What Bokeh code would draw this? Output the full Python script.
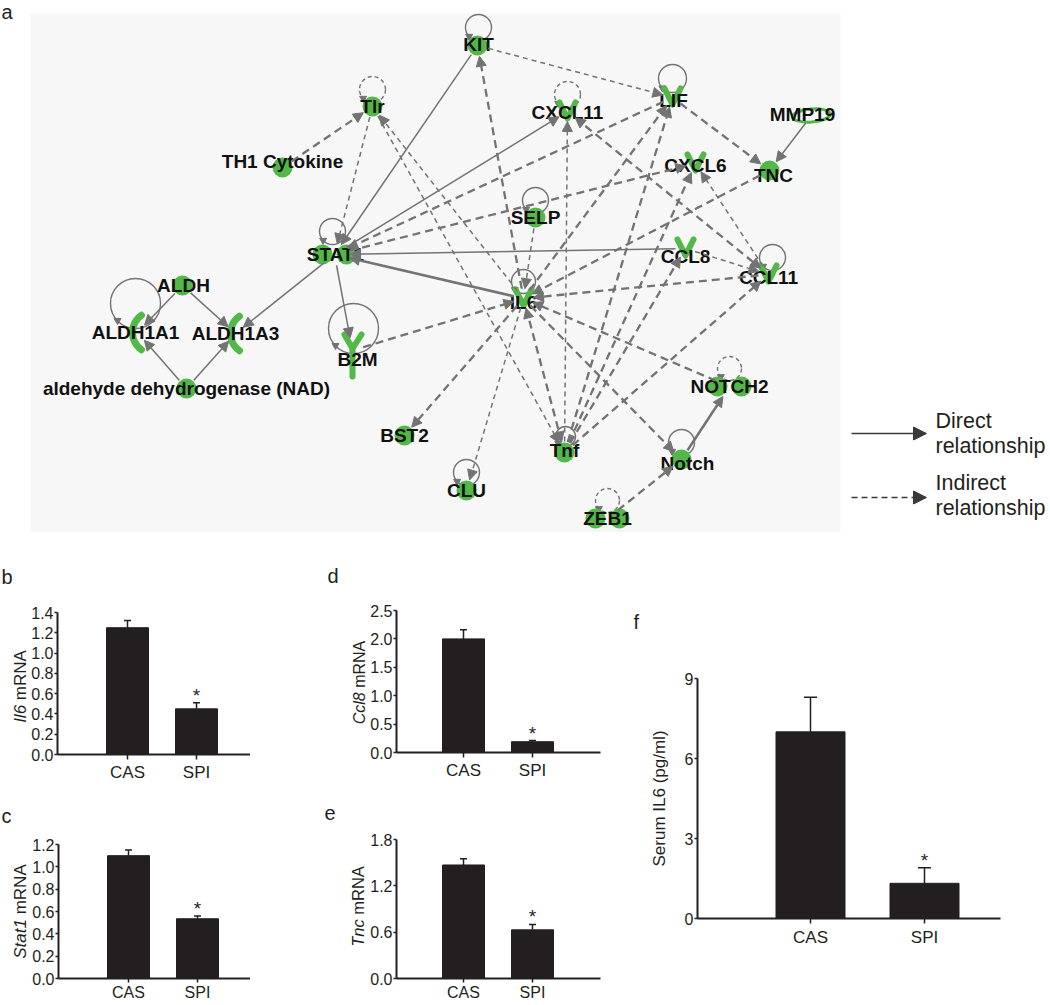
import math
from bokeh.plotting import figure
from bokeh.models import (Range1d, Arrow, NormalHead, ColumnDataSource,
                          FixedTicker, PrintfTickFormatter)
from bokeh.layouts import column, row
from bokeh.embed import file_html
from bokeh.resources import INLINE
from bokeh.core.properties import value

# ---------------------------------------------------------------- DATA
groups = ["CAS", "SPI"]
significant = [False, True]

il6_mrna = [1.25, 0.45]
il6_mrna_err = [0.07, 0.06]
il6_ticks = [0.0, 0.2, 0.4, 0.6, 0.8, 1.0, 1.2, 1.4]

stat1_mrna = [1.10, 0.535]
stat1_mrna_err = [0.05, 0.025]
stat1_ticks = [0.0, 0.2, 0.4, 0.6, 0.8, 1.0, 1.2]

ccl8_mrna = [2.00, 0.19]
ccl8_mrna_err = [0.16, 0.02]
ccl8_ticks = [0.0, 0.5, 1.0, 1.5, 2.0, 2.5]

tnc_mrna = [1.47, 0.63]
tnc_mrna_err = [0.08, 0.07]
tnc_ticks = [0.0, 0.6, 1.2, 1.8]

serum_il6 = [7.0, 1.32]
serum_il6_err = [1.3, 0.58]
serum_ticks = [0, 3, 6, 9]

NAD = "aldehyde dehydrogenase (NAD)"
node_names = ["KIT", "Tlr", "CXCL11", "LIF", "MMP19", "TH1 Cytokine", "CXCL6", "TNC",
              "SELP", "STAT1", "CCL8", "CCL11", "ALDH", "IL6", "ALDH1A1", "ALDH1A3",
              "B2M", NAD, "NOTCH2", "BST2", "Tnf", "Notch", "CLU", "ZEB1"]
node_types = ["circle", "circle", "chemokine", "chemokine", "ring", "circle", "chemokine", "circle",
              "circle", "complex", "chemokine", "chemokine", "circle", "chemokine", "crescent", "crescent",
              "receptor", "circle", "complex", "circle", "circle", "circle", "circle", "complex"]

# relationships: source, target, kind
edge_src = ["KIT", "STAT1", "CCL8", "IL6", "STAT1", "STAT1", "ALDH", "ALDH", NAD, NAD, "MMP19", "Notch",
            "TH1 Cytokine", "Tlr", "IL6", "Tlr", "KIT", "IL6", "LIF", "STAT1", "Tnf", "Tnf", "IL6",
            "Tnf", "Tnf", "Tnf", "CXCL11", "CCL11", "CCL8", "CCL11", "TNC", "LIF", "B2M", "IL6",
            "IL6", "IL6", "SELP", "NOTCH2", "IL6", "ZEB1"]
edge_dst = ["STAT1", "CXCL11", "STAT1", "STAT1", "ALDH1A3", "B2M", "ALDH1A1", "ALDH1A3", "ALDH1A1", "ALDH1A3", "TNC", "NOTCH2",
            "Tlr", "STAT1", "Tlr", "Tnf", "LIF", "KIT", "STAT1", "CXCL6", "CXCL11", "LIF", "LIF",
            "CXCL6", "CCL8", "CCL11", "CCL11", "CXCL6", "CCL11", "IL6", "IL6", "TNC", "IL6", "BST2",
            "CLU", "Tnf", "IL6", "IL6", "Notch", "Notch"]
edge_kind = ["direct", "direct", "direct", "direct_bold", "direct", "direct", "direct", "direct", "direct", "direct", "direct", "direct_bold",
             "indirect", "indirect_thin", "indirect_thin", "indirect_thin", "indirect_thin", "indirect", "indirect", "indirect", "indirect_thin", "indirect", "indirect",
             "indirect", "indirect", "indirect", "indirect_both", "indirect_thin", "indirect_thin", "indirect", "indirect", "indirect", "indirect", "indirect",
             "indirect_thin", "indirect_both", "indirect_thin", "indirect", "indirect", "indirect"]

# self relationships
loop_nodes = ["KIT", "Tlr", "CXCL11", "LIF", "SELP", "STAT1", "ALDH1A1", "B2M", "CCL11",
              "NOTCH2", "IL6", "Tnf", "Notch", "CLU", "ZEB1"]
loop_indirect = [False, True, True, False, False, False, False, False, False,
                 True, False, False, False, False, True]

legend_lines = ["Direct", "relationship", "Indirect", "relationship"]

# ---------------------------------------------------------------- LAYOUT / STYLE
INK = "#231f20"
GREEN = "#52b848"
EDGE = "#737373"
FONT = "Liberation Sans"

NODE_XY = {
    "KIT": (477, 45), "Tlr": (372, 106), "CXCL11": (567, 111), "LIF": (672, 97),
    "MMP19": (811, 115), "TH1 Cytokine": (282, 167), "CXCL6": (695, 163), "TNC": (769, 170),
    "SELP": (535, 217), "STAT1": (334, 254), "CCL8": (685, 248), "CCL11": (768, 274),
    "ALDH": (182, 285), "IL6": (523, 298), "ALDH1A1": (137, 332), "ALDH1A3": (235, 333),
    "B2M": (352, 350), NAD: (186, 388), "NOTCH2": (729, 386),
    "BST2": (404, 435), "Tnf": (564, 452), "Notch": (681, 459), "CLU": (466, 490), "ZEB1": (607, 518),
}
LABEL_XY = {
    "KIT": (478, 44), "Tlr": (372, 106), "CXCL11": (567, 112), "LIF": (673, 100),
    "MMP19": (802, 114), "TH1 Cytokine": (282, 161), "CXCL6": (695, 165), "TNC": (773, 175),
    "SELP": (535, 217), "STAT1": (335, 254), "CCL8": (685, 256), "CCL11": (768, 277),
    "ALDH": (183, 285), "IL6": (523, 302), "ALDH1A1": (135, 332), "ALDH1A3": (235, 333),
    "B2M": (357, 359), NAD: (186, 388), "NOTCH2": (729, 386),
    "BST2": (404, 435), "Tnf": (564, 450), "Notch": (687, 463), "CLU": (466, 490), "ZEB1": (607, 518),
}
NODE_R = {"circle": (11, 11), "complex": (16, 11), "chemokine": (10, 10), "crescent": (9, 12),
          "receptor": (11, 13), "ring": (18, 8)}
LOOP_GEOM = {  # dx, dy, radius
    "KIT": (1, -18, 13), "Tlr": (0, -17, 13), "CXCL11": (0, -17, 13), "LIF": (0, -19, 14),
    "SELP": (0, -17, 13), "STAT1": (-2, -23, 13), "ALDH1A1": (-2, -29, 25), "B2M": (1, -22, 25),
    "CCL11": (4, -17, 13), "NOTCH2": (0, -18, 12), "IL6": (0, -17, 12), "Tnf": (1, -16, 10),
    "Notch": (0, -17, 13), "CLU": (0, -18, 13), "ZEB1": (0, -18, 12),
}
EDGE_STYLE = {
    "direct": dict(line_width=1.5, line_dash="solid"),
    "direct_bold": dict(line_width=2.5, line_dash="solid"),
    "indirect": dict(line_width=2.3, line_dash="8 5"),
    "indirect_thin": dict(line_width=1.5, line_dash="5 4"),
    "indirect_both": dict(line_width=2.3, line_dash="8 5"),
}


def no_align(fig):
    try:
        fig.frame_align = False
    except Exception:
        pass


# ---------------------------------------------------------------- NETWORK (panel a)
net = figure(width=1050, height=543, x_range=Range1d(0, 1050), y_range=Range1d(543, 0),
             output_backend="svg", toolbar_location=None, x_axis_location=None,
             y_axis_location=None, min_border=0)
net.grid.visible = False
net.outline_line_color = None
no_align(net)

net.quad(left=[30], right=[840], top=[13], bottom=[532], fill_color="#f7f7f7", line_color=None)
net.text(x=[1], y=[0], text=["a"], text_font=value(FONT), text_font_size="20px",
         text_color=INK, text_align="left", text_baseline="top")

ntype = dict(zip(node_names, node_types))


def eff_r(name, ux, uy):
    rx, ry = NODE_R[ntype[name]]
    return 1.0 / math.sqrt((ux / rx) ** 2 + (uy / ry) ** 2)


groups_e = {}
for s, d, k in zip(edge_src, edge_dst, edge_kind):
    x0, y0 = NODE_XY[s]
    x1, y1 = NODE_XY[d]
    L = math.hypot(x1 - x0, y1 - y0)
    ux, uy = (x1 - x0) / L, (y1 - y0) / L
    rs, rd = eff_r(s, ux, uy), eff_r(d, ux, uy)
    g = groups_e.setdefault(k, dict(xs=[], ys=[], xe=[], ye=[]))
    g["xs"].append(x0 + ux * rs)
    g["ys"].append(y0 + uy * rs)
    g["xe"].append(x1 - ux * rd)
    g["ye"].append(y1 - uy * rd)

for k, g in groups_e.items():
    st = EDGE_STYLE[k]
    kw = {}
    if k == "indirect_both":
        kw["start"] = NormalHead(size=10, fill_color=EDGE, line_color=EDGE, line_width=1)
    net.add_layout(Arrow(end=NormalHead(size=10, fill_color=EDGE, line_color=EDGE, line_width=1),
                         source=ColumnDataSource(g), x_start="xs", y_start="ys",
                         x_end="xe", y_end="ye", line_color=EDGE, **st, **kw))

# self loops
for n, ind in zip(loop_nodes, loop_indirect):
    x, y = NODE_XY[n]
    dx, dy, r = LOOP_GEOM[n]
    cx, cy = x + dx, y + dy
    net.scatter(x=[cx], y=[cy], size=2 * r, marker="circle", fill_color=None,
                line_color=EDGE, line_width=1.4, line_dash="4 3" if ind else "solid")
    net.scatter(x=[cx - 0.72 * r], y=[cy + 0.68 * r], size=7, marker="inverted_triangle",
                fill_color=EDGE, line_color=EDGE)

# node shapes
circ_x, circ_y = [], []
v_xs, v_ys = [], []
cr_xs, cr_ys = [], []
for n, t in zip(node_names, node_types):
    x, y = NODE_XY[n]
    if t == "circle":
        circ_x.append(x); circ_y.append(y)
    elif t == "complex":
        circ_x += [x - 12, x + 12]; circ_y += [y, y]
    elif t == "chemokine":
        v_xs.append([x - 8, x, x + 8]); v_ys.append([y - 9, y + 7, y - 9])
    elif t == "crescent":
        cx = x + 16
        angs = [math.radians(a) for a in range(125, 240, 5)]
        cr_xs.append([cx + 21 * math.cos(a) for a in angs])
        cr_ys.append([y + 21 * math.sin(a) for a in angs])
    elif t == "receptor":
        v_xs.append([x - 8, x, x + 9]); v_ys.append([y - 16, y - 2, y - 16])
        v_xs.append([x, x]); v_ys.append([y - 2, y + 26])
    elif t == "ring":
        net.ellipse(x=[x], y=[y], width=38, height=13, angle=0.08, fill_color=None,
                    line_color=GREEN, line_width=3)

net.scatter(x=circ_x, y=circ_y, size=20, marker="circle", fill_color=GREEN, line_color=None)
net.multi_line(xs=v_xs, ys=v_ys, line_color=GREEN, line_width=6, line_cap="round", line_join="round")
net.multi_line(xs=cr_xs, ys=cr_ys, line_color=GREEN, line_width=7, line_cap="round", line_join="round")

net.text(x=[LABEL_XY[n][0] for n in node_names], y=[LABEL_XY[n][1] for n in node_names],
         text=node_names, text_font=value(FONT), text_font_style="bold",
         text_font_size="19px", text_color="#111111", text_align="center",
         text_baseline="middle")

# legend
net.add_layout(Arrow(end=NormalHead(size=13, fill_color="#3a3a3a", line_color="#3a3a3a"),
                     x_start=851, y_start=433, x_end=926, y_end=433,
                     line_color="#3a3a3a", line_width=1.5))
net.add_layout(Arrow(end=NormalHead(size=13, fill_color="#3a3a3a", line_color="#3a3a3a"),
                     x_start=851, y_start=497, x_end=926, y_end=497,
                     line_color="#3a3a3a", line_width=1.5, line_dash="6 4"))
net.text(x=[935] * 4, y=[420, 445, 482, 507], text=legend_lines, text_font=value(FONT),
         text_font_size="21.5px", text_color=INK, text_align="left", text_baseline="middle")

# ---------------------------------------------------------------- BAR PANELS
# plot canvas origin (x0, y0), frame (fl, ft, fw, fh), borders, bar centres c1/c2 (px)
GEO = {
    "b": dict(x0=28, y0=543, fl=57, ft=612, fw=193, fh=142, mr=0, mb=30, c1=127, c2=196, bw=42,
              cap=7, xfs=17, tout=5, stand=3),
    "c": dict(x0=28, y0=784, fl=58, ft=844, fw=192, fh=134, mr=0, mb=20, c1=128, c2=197, bw=42,
              cap=7, xfs=16, tout=4, stand=1),
    "d": dict(x0=367, y0=543, fl=396, ft=610, fw=204, fh=142, mr=10, mb=30, c1=463, c2=532, bw=42,
              cap=7, xfs=17, tout=5, stand=3),
    "e": dict(x0=367, y0=782, fl=396, ft=839, fw=204, fh=139, mr=10, mb=20, c1=463, c2=532, bw=42,
              cap=7, xfs=16, tout=4, stand=1),
    "f": dict(x0=672, y0=543, fl=697, ft=678, fw=303, fh=240, mr=46, mb=40, c1=810, c2=924, bw=69,
              cap=13, xfs=17, tout=5, stand=4),
}
# side text strips: canvas x0, width, height, letter pos, y-label centre
SIDE = {
    "b": dict(x0=0, w=28, y0=543, h=241, letter=(1, 576), ylab=(19.5, 686)),
    "c": dict(x0=0, w=28, y0=784, h=200, letter=(1, 815), ylab=(19.5, 911)),
    "d": dict(x0=250, w=117, y0=543, h=239, letter=(327, 575), ylab=(358.5, 682)),
    "e": dict(x0=250, w=117, y0=782, h=200, letter=(324, 812), ylab=(357, 906)),
    "f": dict(x0=610, w=62, y0=543, h=415, letter=(633, 621), ylab=(659, 798)),
}


def side_strip(key, ylabel_parts, fs):
    sd = SIDE[key]
    s = figure(width=sd["w"], height=sd["h"], x_range=Range1d(sd["x0"], sd["x0"] + sd["w"]),
               y_range=Range1d(-(sd["y0"] + sd["h"]), -sd["y0"]), output_backend="svg",
               toolbar_location=None, x_axis_location=None, y_axis_location=None, min_border=0)
    s.grid.visible = False
    s.outline_line_color = None
    no_align(s)
    lx, ly = sd["letter"]
    s.text(x=[lx], y=[-ly], text=[key], text_font=value(FONT), text_font_size="20px",
           text_color=INK, text_align="left", text_baseline="middle")
    cx, cy = sd["ylab"]
    total = sum(w for _, _, w in ylabel_parts) * fs
    py = cy + total / 2
    for txt, style, w in ylabel_parts:
        s.text(x=[cx], y=[-py], text=[txt], angle=math.pi / 2, text_font=value(FONT),
               text_font_style=style, text_font_size=f"{fs}px", text_color=INK,
               text_align="left", text_baseline="middle")
        py -= w * fs
    return s


def bar_panel(key, means, errs, ticks, fmt):
    g = GEO[key]
    s = g["c2"] - g["c1"]
    xs = 1 - (g["c1"] - g["fl"]) / s
    xe = 1 + (g["fl"] + g["fw"] - g["c1"]) / s
    ymax = ticks[-1]
    p = figure(frame_width=g["fw"], frame_height=g["fh"], x_range=Range1d(xs, xe),
               y_range=Range1d(0, ymax), output_backend="svg", toolbar_location=None,
               min_border_left=g["fl"] - g["x0"], min_border_top=g["ft"] - g["y0"],
               min_border_right=g["mr"], min_border_bottom=g["mb"])
    p.grid.visible = False
    p.outline_line_color = None
    no_align(p)

    xpos = [i + 1 for i in range(len(groups))]
    tops = [m + e for m, e in zip(means, errs)]
    cw = g["cap"] / 2 / s
    p.segment(x0=xpos, y0=means, x1=xpos, y1=tops, line_color=INK, line_width=1.5)
    p.segment(x0=[x - cw for x in xpos], y0=tops, x1=[x + cw for x in xpos], y1=tops,
              line_color=INK, line_width=1.5)
    p.vbar(x=xpos, top=means, width=g["bw"] / s, bottom=0, fill_color=INK, line_color=INK)
    sx = [x for x, sg in zip(xpos, significant) if sg]
    sy = [t for t, sg in zip(tops, significant) if sg]
    p.text(x=sx, y=sy, text=["*"] * len(sx), text_font=value(FONT), text_font_size="19px",
           text_color=INK, text_align="center", text_baseline="bottom", y_offset=3)

    p.xaxis.ticker = FixedTicker(ticks=xpos)
    p.xaxis.major_label_overrides = {x: gname for x, gname in zip(xpos, groups)}
    p.yaxis.ticker = FixedTicker(ticks=ticks)
    p.yaxis.formatter = PrintfTickFormatter(format=fmt)
    for ax in (p.xaxis[0], p.yaxis[0]):
        ax.axis_line_width = 2
        ax.axis_line_color = INK
        ax.major_tick_line_color = INK
        ax.major_tick_line_width = 1.5
        ax.major_tick_in = 0
        ax.minor_tick_line_color = None
        ax.major_label_text_font = FONT
        ax.major_label_text_color = INK
    p.yaxis.major_tick_out = 3
    p.yaxis.major_label_standoff = 1
    p.yaxis.major_label_text_font_size = "16px"
    p.xaxis.major_tick_out = g["tout"]
    p.xaxis.major_label_standoff = g["stand"]
    p.xaxis.major_label_text_font_size = f"{g['xfs']}px"
    return p


pb = bar_panel("b", il6_mrna, il6_mrna_err, il6_ticks, "%.1f")
pc = bar_panel("c", stat1_mrna, stat1_mrna_err, stat1_ticks, "%.1f")
pd = bar_panel("d", ccl8_mrna, ccl8_mrna_err, ccl8_ticks, "%.1f")
pe = bar_panel("e", tnc_mrna, tnc_mrna_err, tnc_ticks, "%.1f")
pf = bar_panel("f", serum_il6, serum_il6_err, serum_ticks, "%d")

sb = side_strip("b", [("Il6", "italic", 1.334), ("mRNA", "normal", 2.944)], 17)
sc = side_strip("c", [("Stat1", "italic", 2.613), ("mRNA", "normal", 2.944)], 17)
sdd = side_strip("d", [("Ccl8", "italic", 2.278), ("mRNA", "normal", 2.944)], 16)
se = side_strip("e", [("Tnc", "italic", 1.945), ("mRNA", "normal", 2.944)], 16.5)
sf = side_strip("f", [("Serum IL6 (pg/ml)", "normal", 8.0)], 17)

layout = column(net, row(column(row(sb, pb), row(sc, pc)),
                         column(row(sdd, pd), row(se, pe)),
                         row(sf, pf)))

open("out.html", "w").write(file_html(layout, INLINE))
